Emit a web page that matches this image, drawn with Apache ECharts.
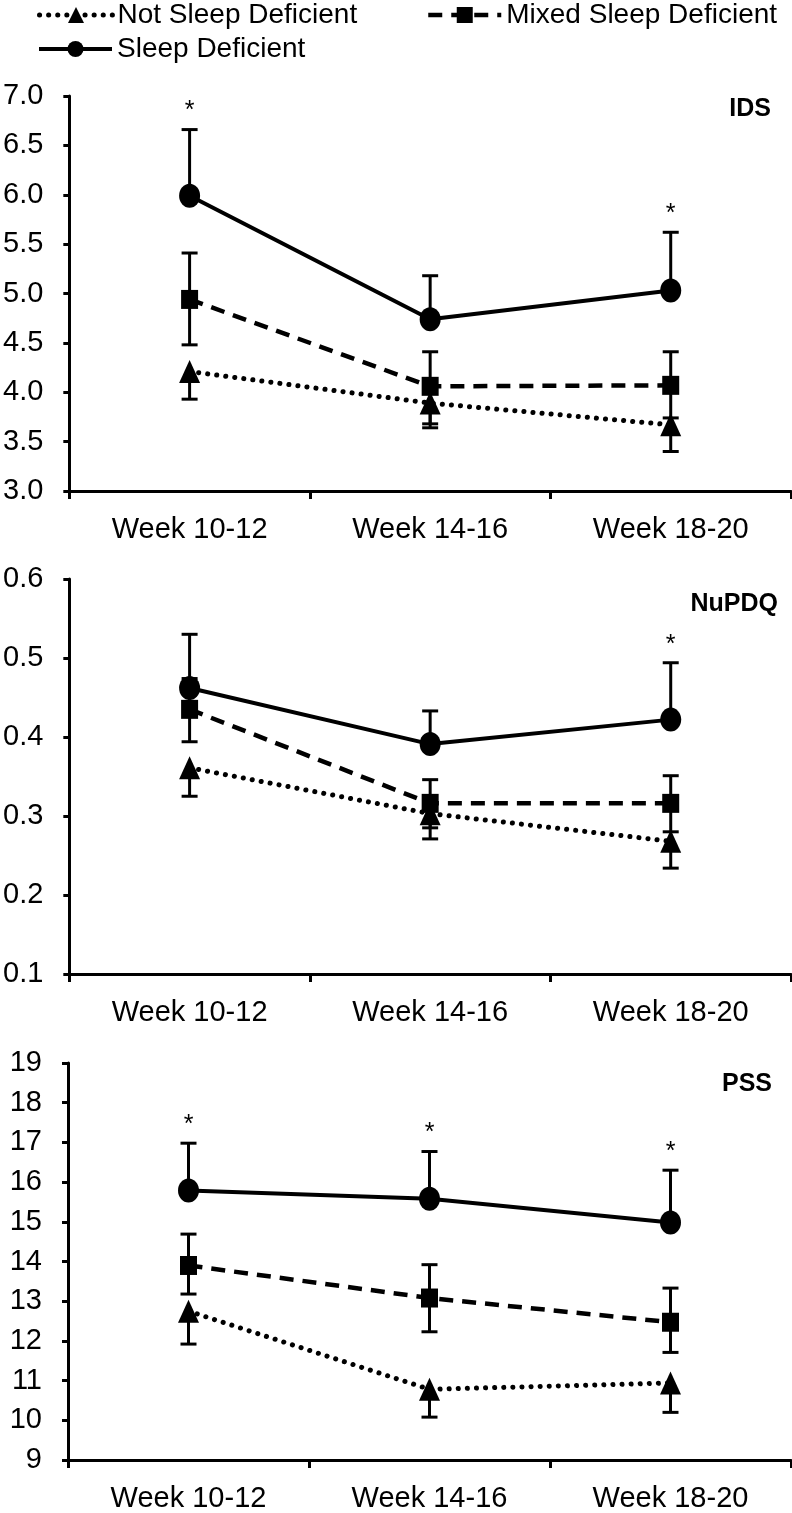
<!DOCTYPE html>
<html><head><meta charset="utf-8">
<script src="https://cdn.jsdelivr.net/npm/echarts@6/dist/echarts.min.js"></script>
<style>html,body{margin:0;padding:0;background:#fff}#c{width:792px;height:1513px}</style>
</head><body><div id="c"></div>
<script>
// ---- data ----
const categories = ['Week 10-12', 'Week 14-16', 'Week 18-20'];
const seriesNames = ['Not Sleep Deficient', 'Mixed Sleep Deficient', 'Sleep Deficient'];
const panelTitles = ['IDS', 'NuPDQ', 'PSS'];

// IDS
const idsNot = [4.21, 3.89, 3.67];
const idsNotLow = [3.93, 3.64, 3.40];
const idsMixed = [4.94, 4.06, 4.07];
const idsMixedLow = [4.48, 3.68, 3.74];
const idsMixedHigh = [5.41, 4.41, 4.41];
const idsSD = [5.99, 4.74, 5.03];
const idsSDHigh = [6.66, 5.18, 5.62];
const idsStar = [1, 0, 1];

// NuPDQ
const nuNot = [0.361, 0.303, 0.268];
const nuNotLow = [0.325, 0.271, 0.234];
const nuMixed = [0.435, 0.316, 0.316];
const nuMixedLow = [0.394, 0.285, 0.280];
const nuMixedHigh = [0.474, 0.346, 0.351];
const nuSD = [0.462, 0.391, 0.422];
const nuSDHigh = [0.530, 0.433, 0.494];
const nuStar = [0, 0, 1];

// PSS
const pssNot = [12.75, 10.78, 10.94];
const pssNotLow = [11.92, 10.08, 10.20];
const pssMixed = [13.90, 13.08, 12.47];
const pssMixedLow = [13.18, 12.23, 11.71];
const pssMixedHigh = [14.69, 13.92, 13.33];
const pssSD = [15.79, 15.58, 14.98];
const pssSDHigh = [16.98, 16.77, 16.30];
const pssStar = [1, 1, 1];

// y-axis scales (min, max, interval, decimals)
const yMin = [3, 0.1, 9];
const yMax = [7, 0.6, 19];
const yInterval = [0.5, 0.1, 1];
const yDecimals = [1, 1, 0];

// ---- build ----
const FF = "'Liberation Sans', Arial, sans-serif";
const panels = [
  {not: idsNot, notLow: idsNotLow, mix: idsMixed, mixLow: idsMixedLow, mixHigh: idsMixedHigh, sd: idsSD, sdHigh: idsSDHigh, star: idsStar},
  {not: nuNot, notLow: nuNotLow, mix: nuMixed, mixLow: nuMixedLow, mixHigh: nuMixedHigh, sd: nuSD, sdHigh: nuSDHigh, star: nuStar},
  {not: pssNot, notLow: pssNotLow, mix: pssMixed, mixLow: pssMixedLow, mixHigh: pssMixedHigh, sd: pssSD, sdHigh: pssSDHigh, star: pssStar}
];
const gridTops = [96, 579, 1063];
const gridHeights = [395, 395, 401];

const grids = [], xAxes = [], yAxes = [], series = [], graphics = [];
const lineStyles = [
  {type: [0.1, 9], width: 5, cap: 'round', color: '#000'},
  {type: [14, 9], width: 4.5, color: '#000'},
  {type: 'solid', width: 4, color: '#000'}
];
const symbols = ['triangle', 'rect', 'circle'];
const symbolSizes = [[21, 23], [17, 19], [21, 24]];

function errRender(params, api) {
  const x = api.value(0), from = api.value(1), to = api.value(2);
  const p0 = api.coord([x, from]);
  const p1 = api.coord([x, to]);
  const cw = 8;
  return {
    type: 'group',
    children: [
      {type: 'line', shape: {x1: p0[0], y1: p0[1], x2: p1[0], y2: p1[1]}, style: {stroke: '#000', lineWidth: 3}},
      {type: 'line', shape: {x1: p1[0] - cw, y1: p1[1], x2: p1[0] + cw, y2: p1[1]}, style: {stroke: '#000', lineWidth: 3}}
    ]
  };
}
function starRender(params, api) {
  const p = api.coord([api.value(0), api.value(1)]);
  return {
    type: 'text',
    style: {text: '*', x: p[0], y: p[1] - 18, textAlign: 'center', textVerticalAlign: 'middle', font: '25px ' + FF, fill: '#000'}
  };
}

panels.forEach((P, i) => {
  grids.push({left: 68, top: gridTops[i], width: 723, height: gridHeights[i], containLabel: false});
  xAxes.push({
    type: 'category', gridIndex: i, data: categories, boundaryGap: true,
    axisLine: {lineStyle: {color: '#000', width: 3}},
    axisTick: {show: true, length: 8, lineStyle: {color: '#000', width: 3}},
    axisLabel: {color: '#000', fontSize: 29, fontFamily: FF, margin: 24},
    splitLine: {show: false}
  });
  const dec = yDecimals[i];
  yAxes.push({
    type: 'value', gridIndex: i, min: yMin[i], max: yMax[i], interval: yInterval[i],
    axisLine: {show: true, lineStyle: {color: '#000', width: 3}},
    axisTick: {show: true, length: 6, lineStyle: {color: '#000', width: 3}},
    axisLabel: {color: '#000', fontSize: 29, fontFamily: FF, margin: 26, formatter: v => v.toFixed(dec)},
    splitLine: {show: false}
  });
  // error bars
  const errData = [];
  for (let k = 0; k < 3; k++) {
    errData.push([k, P.not[k], P.notLow[k]]);
    errData.push([k, P.mix[k], P.mixLow[k]]);
    errData.push([k, P.mix[k], P.mixHigh[k]]);
    errData.push([k, P.sd[k], P.sdHigh[k]]);
  }
  series.push({type: 'custom', xAxisIndex: i, yAxisIndex: i, renderItem: errRender, data: errData, z: 1, silent: true});
  const vals = [P.not, P.mix, P.sd];
  vals.forEach((v, s) => {
    series.push({
      type: 'line', name: seriesNames[s], xAxisIndex: i, yAxisIndex: i, data: v,
      symbol: symbols[s], symbolSize: symbolSizes[s], showAllSymbol: true,
      itemStyle: {color: '#000'}, lineStyle: lineStyles[s], z: 3, animation: false
    });
  });
  const starData = [];
  P.star.forEach((f, k) => { if (f) starData.push([k, P.sdHigh[k]]); });
  series.push({type: 'custom', xAxisIndex: i, yAxisIndex: i, renderItem: starRender, data: starData, z: 4, silent: true});
});

const titleY = [110, 605, 1085];
const titleRight = [771, 778, 772];
panelTitles.forEach((t, i) => {
  graphics.push({type: 'text', right: 792 - titleRight[i], top: titleY[i] - 13,
    style: {text: t, font: 'bold 25px ' + FF, fill: '#000'}});
});

const legendCommon = {orient: 'horizontal', itemWidth: 73, itemHeight: 20, itemGap: 10,
  textStyle: {color: '#000', fontSize: 28, fontFamily: FF, padding: [0, 0, 0, 0]}, selectedMode: false, padding: 0};
const chart = echarts.init(document.getElementById('c'), null, {renderer: 'canvas'});
chart.setOption({
  backgroundColor: '#fff',
  animation: false,
  legend: [
    Object.assign({}, legendCommon, {data: ['Not Sleep Deficient'], left: 37, top: 1,
      lineStyle: {width: 5, type: [0.1, 9], cap: 'round'}}),
    Object.assign({}, legendCommon, {data: ['Mixed Sleep Deficient'], left: 426, top: 1,
      lineStyle: {width: 4.5, type: [14, 9]}}),
    Object.assign({}, legendCommon, {data: ['Sleep Deficient'], left: 37, top: 35,
      lineStyle: {width: 4, type: 'solid'}})
  ],
  grid: grids, xAxis: xAxes, yAxis: yAxes, series: series, graphic: graphics
});
</script></body></html>
